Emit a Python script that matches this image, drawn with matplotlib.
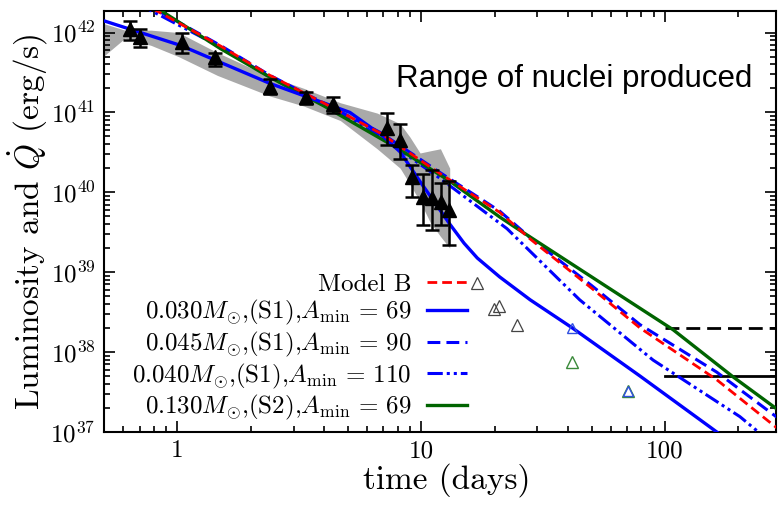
import matplotlib
matplotlib.use('Agg')
import matplotlib.pyplot as plt

plt.rcParams['mathtext.fontset'] = 'cm'
plt.rcParams['font.family'] = 'serif'
plt.rcParams['font.serif'] = ['cmr10', 'DejaVu Serif']
plt.rcParams['axes.formatter.use_mathtext'] = True

# observed bolometric light curve (filled triangles) with error bars
obs_t = [0.64, 0.70, 1.04, 1.42, 2.40, 3.38, 4.36, 7.24, 8.2, 9.2, 10.2, 11.1, 12.1, 13.0]
obs_L = [1.12e42, 8.9e41, 7.5e41, 4.9e41, 2.1e41, 1.55e41, 1.26e41, 6.3e40, 4.5e40, 1.55e40, 8.7e39, 8.5e39, 7.5e39, 6.0e39]
obs_hi = [1.38e42, 1.1e42, 1.0e42, 5.6e41, 2.6e41, 1.8e41, 1.55e41, 9.8e40, 7.1e40, 2.2e40, 1.7e40, 1.9e40, 1.3e40, 1.4e40]
obs_lo = [8.1e41, 6.5e41, 5.6e41, 3.8e41, 1.7e41, 1.26e41, 9.8e40, 3.9e40, 2.6e40, 8.7e39, 3.9e39, 3.4e39, 3.9e39, 2.2e39]

# grey uncertainty band
band_t = [0.50, 0.61, 0.78, 1.01, 1.46, 2.4, 3.3, 4.66, 6.6, 8.2, 9.0, 9.9, 10.9, 12.0, 13.1]
band_hi = [1.29e42, 1.07e42, 1.07e42, 1.0e42, 5.6e41, 2.8e41, 2.0e41, 1.32e41, 9.8e40, 7.2e40, 4.9e40, 3.1e40, 3.3e40, 3.5e40, 2.0e40]
band_lo = [5.1e41, 8.5e41, 6.9e41, 5.0e41, 2.9e41, 1.6e41, 1.2e41, 7.9e40, 3.5e40, 2.0e40, 1.26e40, 7.6e39, 4.2e39, 2.8e39, 2.0e39]

# model heating curves
modelB_t = [0.70, 0.79, 1.5, 2.4, 4.0, 6.8, 12, 21, 28, 50, 79, 163, 290]
modelB_L = [2.4e42, 2.0e42, 6.8e41, 2.9e41, 1.3e41, 5.5e40, 1.7e40, 5.6e39, 2.6e39, 6.3e38, 2.0e38, 4.5e37, 1.1e37]

s1_69_t = [0.5, 1.03, 2.4, 5.1, 7.0, 8.2, 9.0, 10, 11.5, 13.1, 15, 17, 21, 28, 41.7, 79, 153, 200]
s1_69_L = [1.4e42, 6.9e41, 2.3e41, 1.0e41, 5.0e40, 3.2e40, 2.1e40, 1.3e40, 7.1e39, 4.0e39, 2.3e39, 1.5e39,
           8.7e38, 4.5e38, 2.0e38, 5.0e37, 1.15e37, 6.3e36]

s1_90_t = [0.70, 0.79, 1.5, 2.4, 4.0, 6.8, 12, 21, 28, 50, 79, 163, 290]
s1_90_L = [2.5e42, 2.05e42, 6.9e41, 2.9e41, 1.3e41, 5.6e40, 1.75e40, 5.8e39, 2.7e39, 6.8e38, 2.2e38, 5.6e37, 1.5e37]

s1_110_t = [0.65, 0.75, 1.5, 2.4, 4.0, 6.8, 12, 22.5, 44.7, 89.5, 203, 290]
s1_110_L = [2.5e42, 2.0e42, 6.6e41, 2.75e41, 1.26e41, 5.0e40, 1.48e40, 3.5e39, 4.5e38, 7.9e37, 1.55e37, 6.3e36]

s2_69_t = [0.75, 0.87, 1.5, 2.4, 4.0, 8.2, 13, 21, 24.8, 58, 108, 190, 290]
s2_69_L = [2.4e42, 1.82e42, 6.3e41, 2.75e41, 1.2e41, 3.4e40, 1.4e40, 4.9e39, 3.5e39, 6.5e38, 1.9e38, 4.9e37, 1.9e37]

# open triangles
grey_t = [16.9, 19.9, 20.8, 24.8]
grey_L = [7.3e38, 3.4e38, 3.8e38, 2.2e38]
blue_t = [41.7, 70.4]
blue_L = [2.0e38, 3.2e37]
green_t = [41.7, 70.4]
green_L = [7.5e37, 3.2e37]

# horizontal limits
lim_t = [100, 300]
lim_dashed = [2e38, 2e38]
lim_solid = [5e37, 5e37]

labels = ['Model B',
          r'0.030$M_{\odot}$,(S1),$A_{\mathrm{min}}\,=\,69$',
          r'0.045$M_{\odot}$,(S1),$A_{\mathrm{min}}\,=\,90$',
          r'0.040$M_{\odot}$,(S1),$A_{\mathrm{min}}\,=\,110$',
          r'0.130$M_{\odot}$,(S2),$A_{\mathrm{min}}\,=\,69$']

fig = plt.figure(figsize=(7.82, 5.08), dpi=100)
ax = fig.add_axes([0.133, 0.150, 0.859, 0.828])

ax.fill_between(band_t, band_lo, band_hi, color='#a9a9a9', lw=0, zorder=1)

ax.plot(s1_110_t, s1_110_L, color='#0000ff', lw=2.2, dashes=(5, 1.3, 1, 1.3, 1, 1.3), zorder=3, label=labels[3])
ax.plot(s1_90_t, s1_90_L, color='#0000ff', lw=2.2, dashes=(4.2, 2), zorder=3, label=labels[2])
ax.plot(modelB_t, modelB_L, color='#ff0000', lw=2.0, dashes=(3.5, 1.8), zorder=4, label=labels[0])
ax.plot(s2_69_t, s2_69_L, color='#006400', lw=2.4, zorder=3, label=labels[4])
ax.plot(s1_69_t, s1_69_L, color='#0000ff', lw=2.4, zorder=3, label=labels[1])

yerr = [[L - lo for L, lo in zip(obs_L, obs_lo)], [hi - L for L, hi in zip(obs_L, obs_hi)]]
ax.errorbar(obs_t, obs_L, yerr=yerr, fmt='^', color='black', ms=10, elinewidth=1.8,
            capsize=5, capthick=1.8, zorder=5)

ax.plot(grey_t, grey_L, '^', mfc='none', mec='#444444', ms=8, mew=0.9, zorder=5)
ax.plot(green_t, green_L, '^', mfc='none', mec='#3a8a3a', ms=8.5, mew=1.0, zorder=5)
ax.plot(blue_t, blue_L, '^', mfc='none', mec='#3050e0', ms=7, mew=1.0, zorder=5)

ax.plot(lim_t, lim_dashed, color='black', lw=2, dashes=(5, 2.5), zorder=2)
ax.plot(lim_t, lim_solid, color='black', lw=2, zorder=2)

ax.set_xscale('log')
ax.set_yscale('log')
ax.set_xlim(0.5, 285)
ax.set_ylim(1e37, 1.85e42)

ax.set_xticks([1, 10, 100])
ax.set_xticklabels(['1', '10', '100'])
ax.set_yticks([1e37, 1e38, 1e39, 1e40, 1e41, 1e42])
ax.set_yticklabels([r'$10^{37}$', r'$10^{38}$', r'$10^{39}$', r'$10^{40}$', r'$10^{41}$', r'$10^{42}$'])
ax.tick_params(which='both', direction='in', top=True, right=True, labelsize=18, width=1.2)
ax.tick_params(which='major', length=8, pad=6)
ax.tick_params(which='minor', length=4)
for sp in ax.spines.values():
    sp.set_linewidth(1.5)

ax.set_xlabel('time (days)', fontsize=24, labelpad=2)
ax.xaxis.set_label_coords(0.51, -0.075)
ax.set_ylabel(r'Luminosity and $\dot{Q}$ (erg/s)', fontsize=24, labelpad=0)

handles, labs = ax.get_legend_handles_labels()
order = [2, 4, 1, 0, 3]
ax.legend([handles[i] for i in order], [labs[i] for i in order], loc='center right',
          bbox_to_anchor=(0.54, 0.20), frameon=False, markerfirst=False, fontsize=18,
          handlelength=1.6, handletextpad=0.6, labelspacing=0.1, borderpad=0, borderaxespad=0)

ax.text(0.70, 0.838, 'Range of nuclei produced', transform=ax.transAxes, ha='center', va='center',
        fontsize=22.5, family='Liberation Sans')

fig.savefig('out.png', dpi=100)
